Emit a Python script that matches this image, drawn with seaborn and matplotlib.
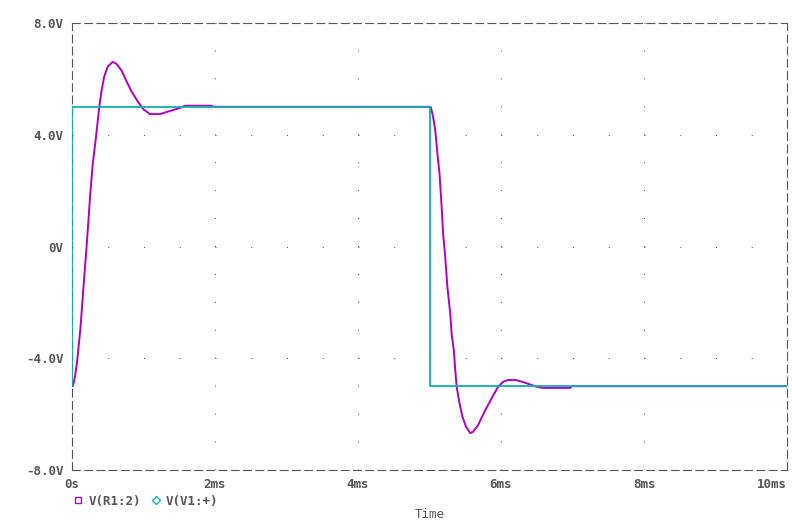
import matplotlib
matplotlib.use("Agg")
import matplotlib.pyplot as plt
from matplotlib.lines import Line2D
import pandas as pd
import seaborn as sns

# V(R1:2) trace (time in ms, volts)
r1_time = [0.0, 0.014, 0.042, 0.074, 0.12, 0.154, 0.19, 0.224, 0.256, 0.29,
           0.336, 0.38, 0.415, 0.45, 0.50, 0.57, 0.625, 0.695, 0.765, 0.835,
           0.93, 1.0, 1.09, 1.23, 1.37, 1.51, 1.58, 1.95, 1.97, 5.0,
           5.02, 5.05, 5.08, 5.11, 5.14, 5.17, 5.19, 5.22, 5.25, 5.29,
           5.31, 5.34, 5.36, 5.38, 5.42, 5.46, 5.51, 5.57, 5.61, 5.68,
           5.77, 5.87, 5.96, 6.03, 6.10, 6.21, 6.33, 6.45, 6.50, 6.58,
           6.97, 6.99, 10.0]
r1_volts = [-5.0, -4.98, -4.66, -4.06, -2.87, -1.67, -0.48, 0.71, 1.91, 2.95,
            3.93, 4.98, 5.60, 6.08, 6.44, 6.61, 6.53, 6.29, 5.90, 5.54,
            5.15, 4.91, 4.74, 4.74, 4.85, 4.96, 5.04, 5.04, 5.0, 5.0,
            4.98, 4.65, 4.17, 3.34, 2.62, 1.42, 0.47, -0.37, -1.44, -2.39,
            -3.15, -3.70, -4.42, -5.02, -5.61, -6.09, -6.45, -6.68, -6.63, -6.39,
            -5.91, -5.43, -5.02, -4.84, -4.78, -4.78, -4.87, -4.98, -5.02, -5.06,
            -5.06, -5.0, -5.0]

# V(V1:+) source, square step
v1_time = [0.0, 0.0, 5.0, 5.0, 10.0]
v1_volts = [-5.0, 5.0, 5.0, -5.0, -5.0]

y_ticks = [8, 4, 0, -4, -8]
y_labels = ["8.0V", "4.0V", "0V", "-4.0V", "-8.0V"]
x_ticks = [0, 2, 4, 6, 8, 10]
x_labels = ["0s", "2ms", "4ms", "6ms", "8ms", "10ms"]

grey = "#555555"
magenta = "#b000c0"
cyan = "#10b0b0"

sns.set_style("white")
plt.rcParams["font.family"] = ["DejaVu Sans Mono"]
plt.rcParams["font.weight"] = "bold"

fig = plt.figure(figsize=(7.92, 5.24), dpi=100)
ax = fig.add_axes([72 / 792, 1 - 470 / 524, 715 / 792, 447 / 524])

r1 = pd.DataFrame({"t": r1_time, "v": r1_volts})
v1 = pd.DataFrame({"t": v1_time, "v": v1_volts})
sns.lineplot(data=r1, x="t", y="v", ax=ax, color=magenta, lw=1.4,
             estimator=None, sort=False, zorder=3)
sns.lineplot(data=v1, x="t", y="v", ax=ax, color=cyan, lw=1.3,
             estimator=None, sort=False, zorder=4)

ax.set_xlim(0, 10)
ax.set_ylim(-8, 8)
ax.set_xticks(x_ticks)
ax.set_xticklabels(x_labels)
ax.set_yticks(y_ticks)
ax.set_yticklabels(y_labels)
ax.tick_params(direction="out", length=3, width=0.8, color=grey,
               labelcolor=grey, labelsize=9, pad=3)
ax.tick_params(axis="x", pad=3)
ax.get_xticklabels()[-1].set_ha("right")
ax.get_xticklabels()[-1].set_x(10.02)

# dotted grid: vertical lines dotted every 1V, horizontal every 0.5ms
ax.xaxis.grid(True, color=grey, lw=0.72, linestyle=(0, (1, 26.94)))
ax.yaxis.grid(True, color=grey, lw=0.72, linestyle=(0, (1, 34.75)))
ax.set_axisbelow(True)

for sp in ax.spines.values():
    sp.set_visible(True)
    sp.set_color(grey)
    sp.set_linewidth(0.8)
    sp.set_linestyle((0, (7, 4)))

ax.set_xlabel("Time", color=grey, fontsize=9, labelpad=12)
ax.set_ylabel("")

handles = [
    Line2D([], [], ls="none", marker="s", mfc="none", mec=magenta, ms=5, mew=1),
    Line2D([], [], ls="none", marker="D", mfc="none", mec=cyan, ms=4, mew=1),
]
fig.legend(handles, ["V(R1:2)", "V(V1:+)"], loc="center left",
           bbox_to_anchor=(62 / 792, 1 - 501 / 524), ncol=2, frameon=False,
           handlelength=0.8, handletextpad=0.4, columnspacing=0.8,
           labelcolor=grey, prop={"size": 9, "weight": "bold"})

fig.savefig("out.png", dpi=100)
